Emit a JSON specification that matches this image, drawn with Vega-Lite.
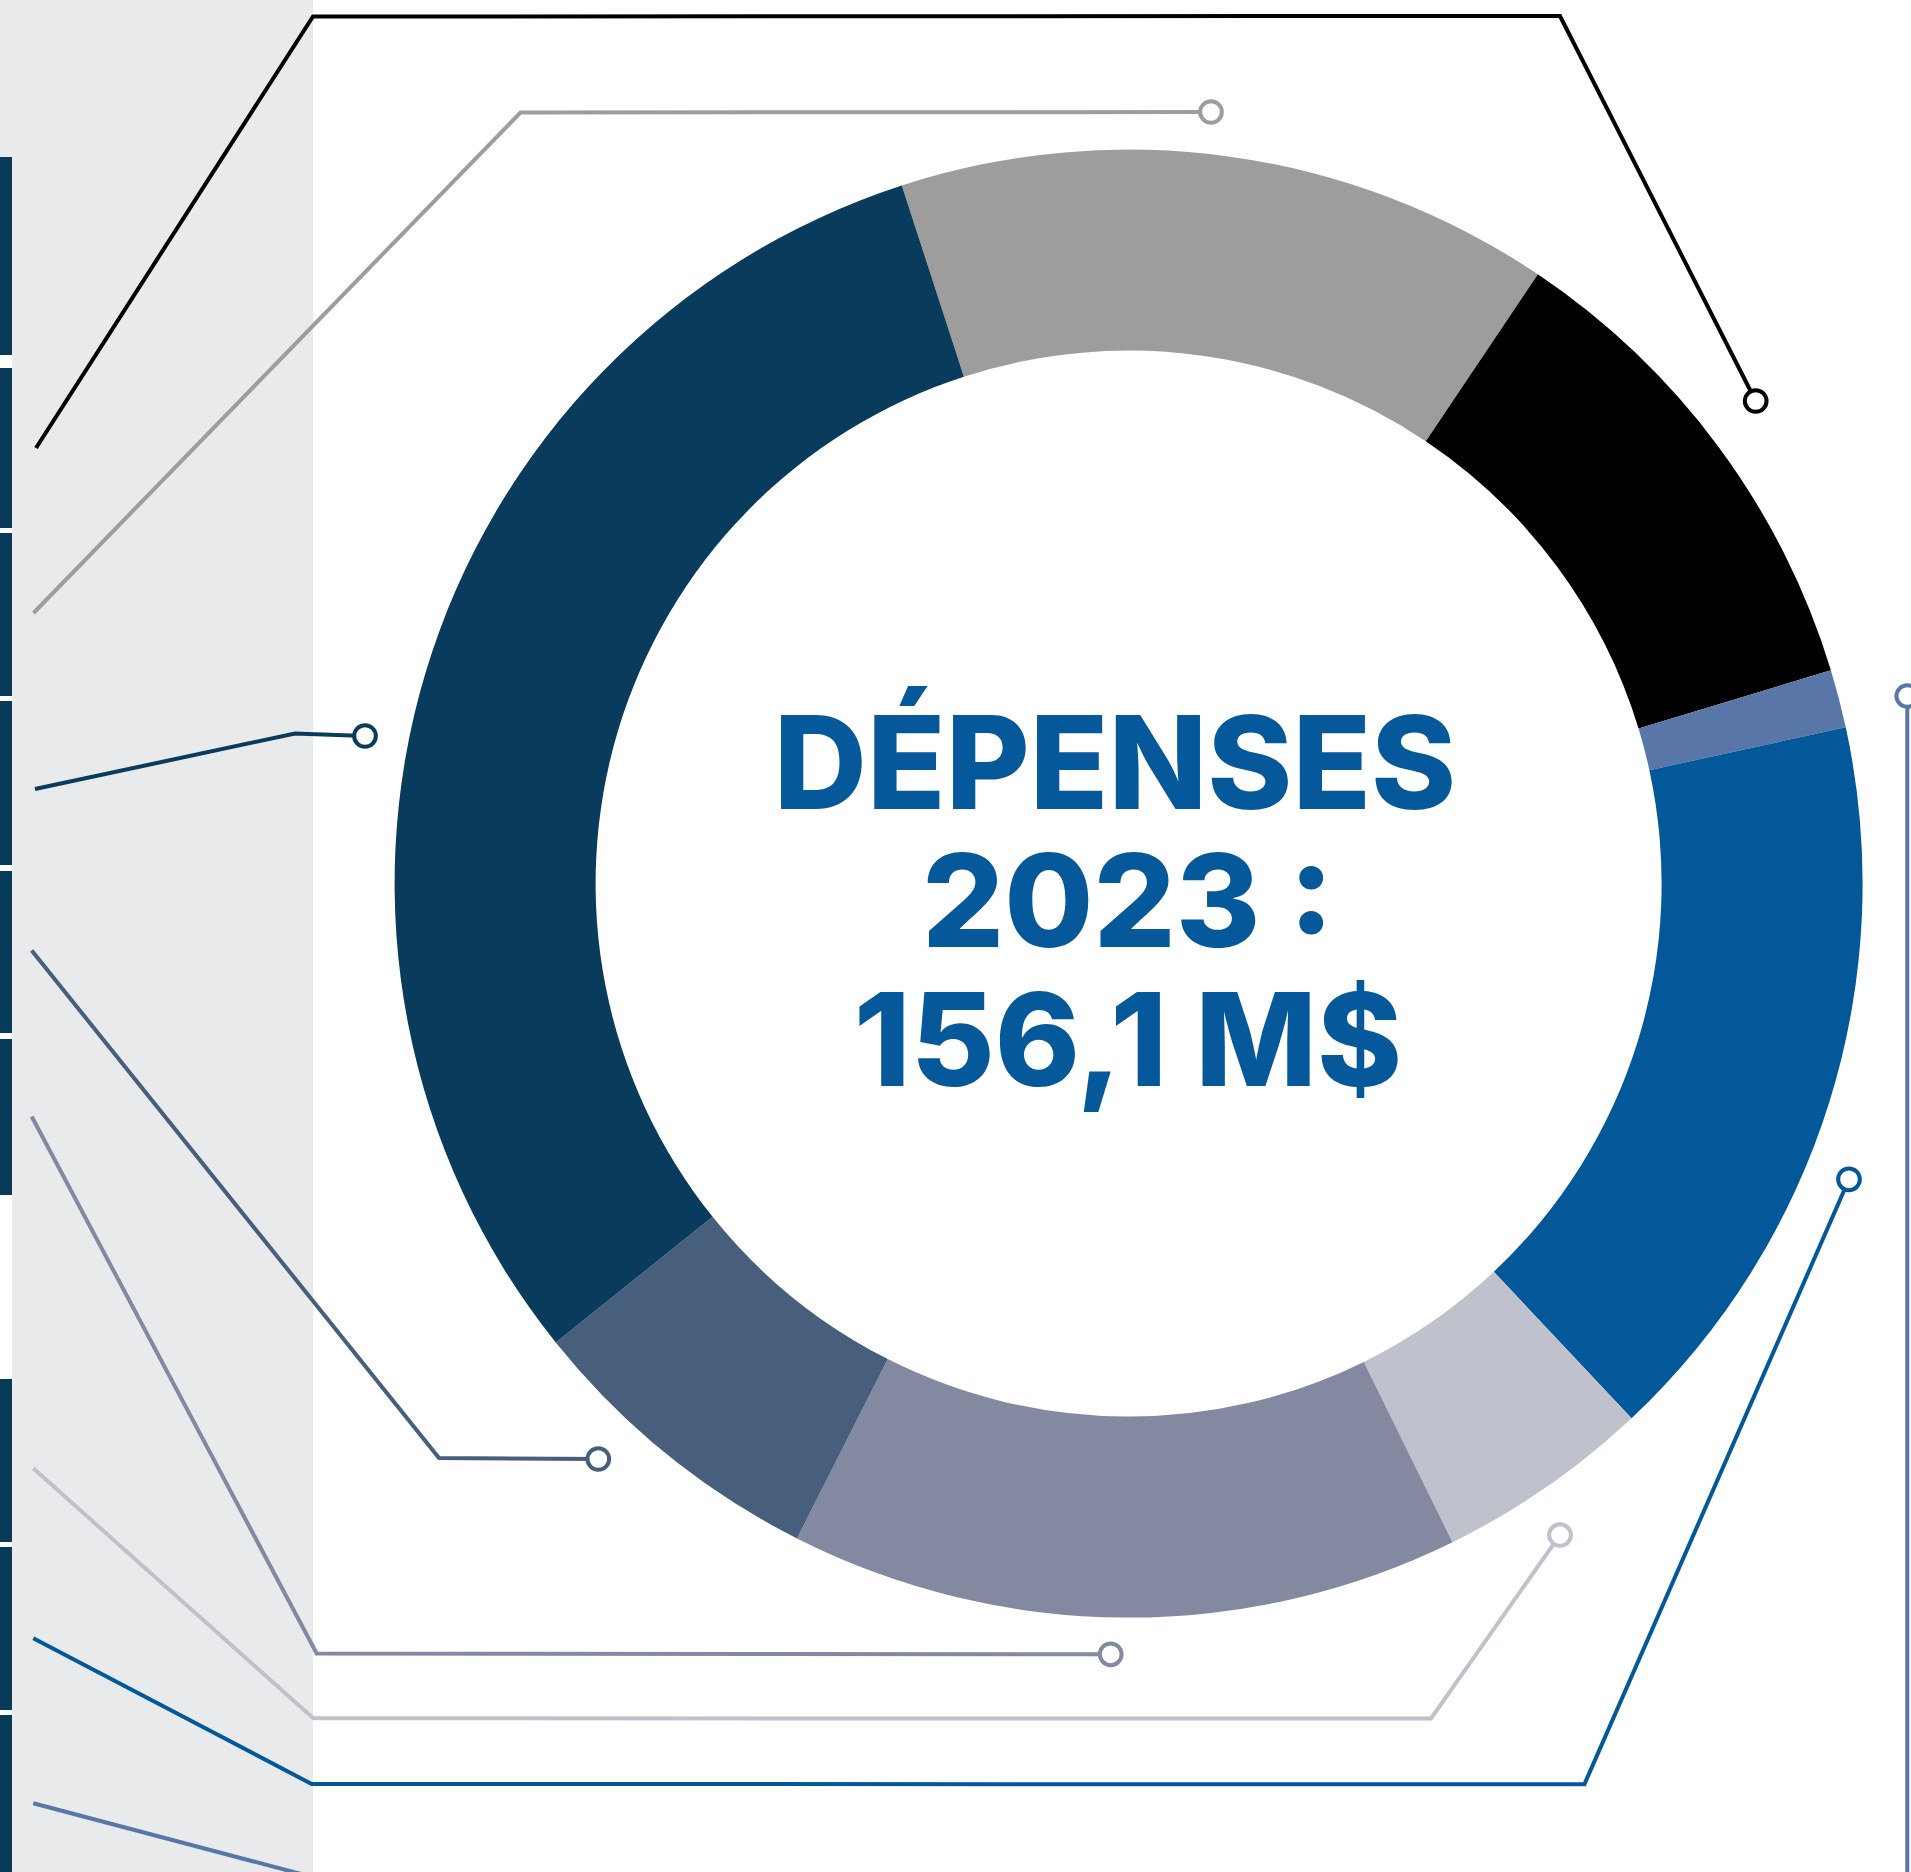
{
  "$schema": "https://vega.github.io/schema/vega-lite/v6.json",
  "width": 1911,
  "height": 1872,
  "padding": 0,
  "autosize": {"type": "none"},
  "background": "white",
  "config": {"view": {"stroke": null}},
  "datasets": {
    "segments": [
      {"poste": "Catégorie 1", "ordre": 1, "montant": 22.5},
      {"poste": "Catégorie 2", "ordre": 2, "montant": 17.0},
      {"poste": "Catégorie 3", "ordre": 3, "montant": 2.0},
      {"poste": "Catégorie 4", "ordre": 4, "montant": 25.6},
      {"poste": "Catégorie 5", "ordre": 5, "montant": 7.4},
      {"poste": "Catégorie 6", "ordre": 6, "montant": 23.0},
      {"poste": "Catégorie 7", "ordre": 7, "montant": 10.6},
      {"poste": "Catégorie 8", "ordre": 8, "montant": 48.0}
    ],
    "bandes": [
      {"debut": 157, "fin": 355},
      {"debut": 368, "fin": 528},
      {"debut": 533, "fin": 696},
      {"debut": 701, "fin": 865},
      {"debut": 871, "fin": 1033},
      {"debut": 1039, "fin": 1195},
      {"debut": 1379, "fin": 1542},
      {"debut": 1547, "fin": 1710},
      {"debut": 1715, "fin": 1872}
    ],
    "traits": [
      {"poste": "Catégorie 2", "piece": "2", "i": 0, "px": 36, "py": 448},
      {"poste": "Catégorie 2", "piece": "2", "i": 1, "px": 313, "py": 16.5},
      {"poste": "Catégorie 2", "piece": "2", "i": 2, "px": 1560, "py": 16},
      {"poste": "Catégorie 2", "piece": "2", "i": 3, "px": 1755.7, "py": 401},
      {"poste": "Catégorie 1", "piece": "1", "i": 0, "px": 33.5, "py": 613},
      {"poste": "Catégorie 1", "piece": "1", "i": 1, "px": 520.5, "py": 112.5},
      {"poste": "Catégorie 1", "piece": "1", "i": 2, "px": 1211, "py": 112},
      {"poste": "Catégorie 8", "piece": "8", "i": 0, "px": 35, "py": 789},
      {"poste": "Catégorie 8", "piece": "8", "i": 1, "px": 295, "py": 733.5},
      {"poste": "Catégorie 8", "piece": "8", "i": 2, "px": 365, "py": 736},
      {"poste": "Catégorie 7", "piece": "7", "i": 0, "px": 31.7, "py": 950.5},
      {"poste": "Catégorie 7", "piece": "7", "i": 1, "px": 439, "py": 1458},
      {"poste": "Catégorie 7", "piece": "7", "i": 2, "px": 598.3, "py": 1459},
      {"poste": "Catégorie 6", "piece": "6", "i": 0, "px": 31.7, "py": 1116.5},
      {"poste": "Catégorie 6", "piece": "6", "i": 1, "px": 316.7, "py": 1653.5},
      {"poste": "Catégorie 6", "piece": "6", "i": 2, "px": 1110.7, "py": 1654.3},
      {"poste": "Catégorie 5", "piece": "5", "i": 0, "px": 33.3, "py": 1468.3},
      {"poste": "Catégorie 5", "piece": "5", "i": 1, "px": 313.3, "py": 1718.3},
      {"poste": "Catégorie 5", "piece": "5", "i": 2, "px": 1431, "py": 1718.5},
      {"poste": "Catégorie 5", "piece": "5", "i": 3, "px": 1560, "py": 1535},
      {"poste": "Catégorie 4", "piece": "4", "i": 0, "px": 33.3, "py": 1638.3},
      {"poste": "Catégorie 4", "piece": "4", "i": 1, "px": 311.7, "py": 1784},
      {"poste": "Catégorie 4", "piece": "4", "i": 2, "px": 1584.4, "py": 1784.3},
      {"poste": "Catégorie 4", "piece": "4", "i": 3, "px": 1849, "py": 1179.3},
      {"poste": "Catégorie 3", "piece": "3a", "i": 0, "px": 33.3, "py": 1803.3},
      {"poste": "Catégorie 3", "piece": "3a", "i": 1, "px": 305, "py": 1875},
      {"poste": "Catégorie 3", "piece": "3b", "i": 0, "px": 1907.3, "py": 696},
      {"poste": "Catégorie 3", "piece": "3b", "i": 1, "px": 1907.3, "py": 1880}
    ],
    "ancres": [
      {"poste": "Catégorie 2", "px": 1755.7, "py": 401},
      {"poste": "Catégorie 1", "px": 1211, "py": 112},
      {"poste": "Catégorie 8", "px": 365, "py": 736},
      {"poste": "Catégorie 7", "px": 598.3, "py": 1459},
      {"poste": "Catégorie 6", "px": 1110.7, "py": 1654.3},
      {"poste": "Catégorie 5", "px": 1560, "py": 1535},
      {"poste": "Catégorie 4", "px": 1849, "py": 1179.3},
      {"poste": "Catégorie 3", "px": 1907.3, "py": 696}
    ]
  },
  "layer": [
    {
      "data": {"values": [{}]},
      "mark": {"type": "rect", "color": "#e9eaec"},
      "encoding": {
        "x": {"datum": 0, "type": "quantitative", "scale": {"domain": [0, 1911], "nice": false, "zero": false}, "axis": null},
        "x2": {"datum": 313},
        "y": {"datum": 0, "type": "quantitative", "scale": {"domain": [0, 1872], "nice": false, "zero": false, "reverse": true}, "axis": null},
        "y2": {"datum": 1872}
      }
    },
    {
      "data": {"values": [{}]},
      "mark": {"type": "rect", "color": "#ffffff"},
      "encoding": {
        "x": {"datum": 0, "type": "quantitative"},
        "x2": {"datum": 12},
        "y": {"datum": 157, "type": "quantitative"},
        "y2": {"datum": 1872}
      }
    },
    {
      "data": {"name": "bandes"},
      "mark": {"type": "rect", "color": "#083a5a"},
      "encoding": {
        "x": {"datum": 0, "type": "quantitative"},
        "x2": {"datum": 12},
        "y": {"field": "debut", "type": "quantitative"},
        "y2": {"field": "fin"}
      }
    },
    {
      "data": {"name": "traits"},
      "mark": {"type": "line", "strokeWidth": 4, "strokeCap": "butt", "strokeJoin": "miter", "clip": true},
      "encoding": {
        "x": {"field": "px", "type": "quantitative"},
        "y": {"field": "py", "type": "quantitative"},
        "detail": {"field": "piece"},
        "order": {"field": "i", "type": "quantitative"},
        "color": {
          "field": "poste", "type": "nominal", "legend": null,
          "scale": {
            "domain": ["Catégorie 1", "Catégorie 2", "Catégorie 3", "Catégorie 4", "Catégorie 5", "Catégorie 6", "Catégorie 7", "Catégorie 8"],
            "range": ["#9d9d9b", "#000000", "#5877a8", "#03589a", "#bfc2cd", "#8489a2", "#485e7d", "#093b5c"]
          }
        }
      }
    },
    {
      "data": {"name": "ancres"},
      "mark": {"type": "point", "shape": "circle", "size": 470, "strokeWidth": 4, "fill": "#ffffff", "opacity": 1, "clip": true},
      "encoding": {
        "x": {"field": "px", "type": "quantitative"},
        "y": {"field": "py", "type": "quantitative"},
        "stroke": {
          "field": "poste", "type": "nominal", "legend": null,
          "scale": {
            "domain": ["Catégorie 1", "Catégorie 2", "Catégorie 3", "Catégorie 4", "Catégorie 5", "Catégorie 6", "Catégorie 7", "Catégorie 8"],
            "range": ["#9d9d9b", "#000000", "#5877a8", "#03589a", "#bfc2cd", "#8489a2", "#485e7d", "#093b5c"]
          }
        }
      }
    },
    {
      "data": {"name": "segments"},
      "mark": {"type": "arc", "innerRadius": 533, "outerRadius": 734},
      "encoding": {
        "x": {"datum": 1128.6, "type": "quantitative"},
        "y": {"datum": 883.6, "type": "quantitative"},
        "theta": {"field": "montant", "type": "quantitative", "stack": true, "scale": {"range": [-0.31416, 5.96903]}},
        "order": {"field": "ordre", "type": "quantitative"},
        "color": {"field": "poste", "type": "nominal", "legend": null}
      }
    },
    {
      "data": {"values": [{}]},
      "mark": {"type": "text", "font": "Inter", "fontWeight": 800, "fontSize": 129, "align": "center", "baseline": "alphabetic", "color": "#05599a"},
      "encoding": {
        "x": {"datum": 1115, "type": "quantitative"},
        "y": {"datum": 809, "type": "quantitative"},
        "text": {"value": "DÉPENSES"}
      }
    },
    {
      "data": {"values": [{}]},
      "mark": {"type": "text", "font": "Inter", "fontWeight": 800, "fontSize": 129, "lineHeight": 139, "align": "center", "baseline": "alphabetic", "color": "#05599a"},
      "encoding": {
        "x": {"datum": 1128, "type": "quantitative"},
        "y": {"datum": 947, "type": "quantitative"},
        "text": {"value": ["2023 :", "156,1 M$"]}
      }
    }
  ]
}
